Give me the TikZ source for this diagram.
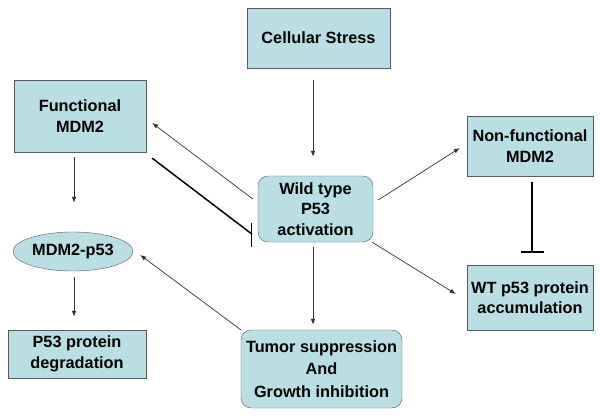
\documentclass[tikz,border=0pt]{standalone}
\usepackage{fontspec}
\setmainfont{Liberation Sans}
\usepackage{tikz}
\usetikzlibrary{shapes.geometric, arrows.meta, calc}
\definecolor{boxfill}{RGB}{185,222,228}
\definecolor{boxline}{RGB}{90,90,90}

\begin{document}
\begin{tikzpicture}[
        x=1pt, y=1pt,
        font=\fontsize{16.3}{20.5}\selectfont\bfseries,
        box/.style={rectangle, draw=boxline, fill=boxfill, align=center, inner sep=2pt},
        rbox/.style={box, rounded corners=10pt},
        oval/.style={ellipse, draw=boxline, fill=boxfill, align=center, inner sep=0pt},
        arr/.style={-{Latex[length=6pt,width=4.5pt]}, draw=black!80, line width=0.7pt},
        inh/.style={draw=black, line width=1.5pt},
    ]
    \useasboundingbox (0,0) rectangle (600,416);
    \node[box, minimum width=143pt, minimum height=60pt] (stress) at (318.5,378) {Cellular Stress};
    \node[box, minimum width=132pt, minimum height=72pt] (func) at (80,300) {Functional\\ MDM2};
    \node[rbox, minimum width=115pt, minimum height=66pt] (wild) at (315.5,207) {Wild type\\ P53\\ activation};
    \node[box, minimum width=126pt, minimum height=60pt] (nonfunc) at (530,270) {Non-functional\\ MDM2};
    \node[box, minimum width=126pt, minimum height=65pt] (wtacc) at (530,118.5) {WT p53 protein\\ accumulation};
    \node[rbox, minimum width=161pt, minimum height=78pt, font=\fontsize{16.3}{22.5}\selectfont\bfseries] (tumor) at (321.5,47) {Tumor suppression\\ And\\ Growth inhibition};
    \node[oval, minimum width=120pt, minimum height=39pt] (complex) at (73,164.5) {MDM2-p53};
    \node[box, minimum width=138pt, minimum height=48pt] (degr) at (77,62) {P53 protein\\ degradation};

    \draw[arr, shorten <=12pt, shorten >=19pt] ([xshift=-5.5pt]stress.south) -- ([xshift=-2.5pt]wild.north);
    \draw[arr, shorten <=5pt, shorten >=5pt] ([xshift=-2.5pt]wild.south) -- ([xshift=-8.5pt]tumor.north);
    \draw[arr, shorten <=5pt, shorten >=29pt] ([xshift=-6pt]func.south) -- ([xshift=1pt]complex.north);
    \draw[arr, shorten <=6pt, shorten >=13pt] ([xshift=1pt]complex.south) -- ([xshift=-3pt]degr.north);
    \draw[arr] ([shift={(-5pt,10pt)}]wild.west) -- ([shift={(6pt,-7pt)}]func.east);
    \draw[arr] ([shift={(5pt,9pt)}]wild.east) -- ([shift={(-7pt,-2pt)}]nonfunc.west);
    \draw[arr] ([shift={(-1pt,0pt)}]wild.south east) -- ([shift={(-11pt,3.5pt)}]wtacc.west);
    \draw[arr] (tumor.north west) -- ([shift={(7pt,-3.5pt)}]complex.east);

    \draw[inh] ([shift={(6pt,-6pt)}]func.south east) -- ([shift={(-6pt,-25pt)}]wild.west) coordinate (stop);
    \draw[inh, line width=1.2pt] ([yshift=11pt]stop) -- ([yshift=-13pt]stop);
    \draw[inh, -{Bar[width=23pt]}, shorten <=6pt, shorten >=12pt] ([xshift=2pt]nonfunc.south) -- ([xshift=2pt]wtacc.north);
\end{tikzpicture}
\end{document}
